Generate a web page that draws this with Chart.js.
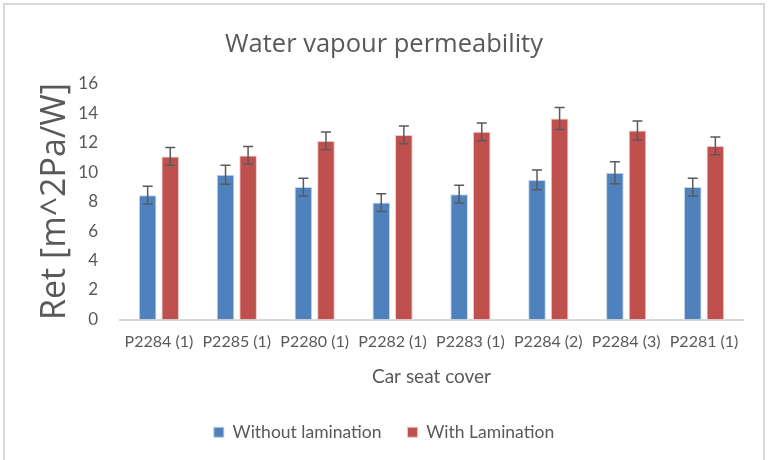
<!DOCTYPE html>
<html>
<head>
<meta charset="utf-8">
<script src="https://cdn.jsdelivr.net/npm/chart.js@4.4.1/dist/chart.umd.min.js"></script>
<style>
  html, body { margin: 0; padding: 0; background: #fff; overflow: hidden; }
  #wrap { position: absolute; left: 0; top: 0; width: 768px; height: 460px; }
  #frame { position: absolute; left: 3px; top: 3px; width: 762px; height: 470px;
           border: 2px solid #d9d9d9; box-sizing: border-box; pointer-events: none; }
</style>
</head>
<body>
<div id="wrap"><canvas id="chart" width="768" height="460"></canvas></div>
<div id="frame"></div>
<script>
/* ===========================
   DATA
=========================== */
const categories = ["P2284 (1)", "P2285 (1)", "P2280 (1)", "P2282 (1)",
                    "P2283 (1)", "P2284 (2)", "P2284 (3)", "P2281 (1)"];
const withoutLamination = [8.43, 9.82, 8.98, 7.93, 8.5, 9.47, 9.95, 8.98];
const withoutErr        = [0.6, 0.65, 0.6, 0.6, 0.6, 0.67, 0.75, 0.6];
const withLamination    = [11.06, 11.13, 12.11, 12.52, 12.73, 13.63, 12.82, 11.77];
const withErr           = [0.6, 0.6, 0.6, 0.6, 0.6, 0.75, 0.65, 0.6];
const yTicks = [0, 2, 4, 6, 8, 10, 12, 14, 16];

const textCol = "#595959";

/* ===========================
   ERROR BARS PLUGIN
=========================== */
const errorBars = {
  id: "errorBars",
  afterDatasetsDraw(chart) {
    const ctx = chart.ctx;
    const y = chart.scales.y;
    chart.data.datasets.forEach((ds, di) => {
      const meta = chart.getDatasetMeta(di);
      meta.data.forEach((bar, i) => {
        const v = ds.data[i], e = ds.errors[i];
        const top = y.getPixelForValue(v + e);
        const bot = y.getPixelForValue(v - e);
        ctx.save();
        ctx.strokeStyle = "#5a5a5a";
        ctx.lineWidth = 1.5;
        ctx.beginPath();
        ctx.moveTo(bar.x, top); ctx.lineTo(bar.x, bot);
        ctx.moveTo(bar.x - 5, top); ctx.lineTo(bar.x + 5, top);
        ctx.moveTo(bar.x - 5, bot); ctx.lineTo(bar.x + 5, bot);
        ctx.stroke();
        ctx.restore();
      });
    });
  }
};

/* ===========================
   CHART
=========================== */
new Chart(document.getElementById("chart"), {
  type: "bar",
  data: {
    labels: categories,
    datasets: [
      {
        label: "Without lamination",
        data: withoutLamination,
        errors: withoutErr,
        backgroundColor: "#4f81bd",
        borderColor: "rgba(190,210,235,0.9)",
        borderWidth: 1,
        categoryPercentage: 0.58,
        barPercentage: 0.78
      },
      {
        label: "With Lamination",
        data: withLamination,
        errors: withErr,
        backgroundColor: "#c0504d",
        borderColor: "rgba(235,195,195,0.9)",
        borderWidth: 1,
        categoryPercentage: 0.58,
        barPercentage: 0.78
      }
    ]
  },
  plugins: [errorBars],
  options: {
    responsive: false,
    animation: false,
    layout: { padding: { left: 25, right: 25, top: 29, bottom: 9 } },
    plugins: {
      title: {
        display: true,
        text: "Water vapour permeability",
        color: textCol,
        font: { family: "'Open Sans', sans-serif", size: 25.5, weight: "normal" },
        padding: { top: 0, bottom: 24 }
      },
      legend: {
        position: "bottom",
        labels: {
          color: textCol,
          font: { family: "Lato, sans-serif", size: 17.5 },
          boxWidth: 10,
          boxHeight: 10,
          padding: 26
        }
      },
      tooltip: { enabled: false }
    },
    scales: {
      x: {
        grid: { display: false },
        border: { color: "#d9d9d9", width: 2 },
        ticks: {
          color: textCol,
          font: { family: "Lato, sans-serif", size: 16 },
          maxRotation: 0,
          autoSkip: false,
          padding: 5
        },
        title: {
          display: true,
          text: "Car seat cover",
          color: textCol,
          font: { family: "Lato, sans-serif", size: 19 },
          padding: { top: 9, bottom: 9 }
        }
      },
      y: {
        min: 0,
        max: 16,
        afterBuildTicks: axis => { axis.ticks = yTicks.map(v => ({ value: v })); },
        afterFit: axis => { axis.width = 95; },
        grid: { display: false },
        border: { display: false },
        ticks: {
          color: textCol,
          font: { family: "Lato, sans-serif", size: 17 },
          padding: 14
        },
        title: {
          display: true,
          text: "Ret [m^2Pa/W]",
          color: textCol,
          font: { family: "'Open Sans', sans-serif", size: 34, lineHeight: 1 },
          padding: { top: 13, bottom: 0 }
        }
      }
    }
  }
});
</script>
</body>
</html>
